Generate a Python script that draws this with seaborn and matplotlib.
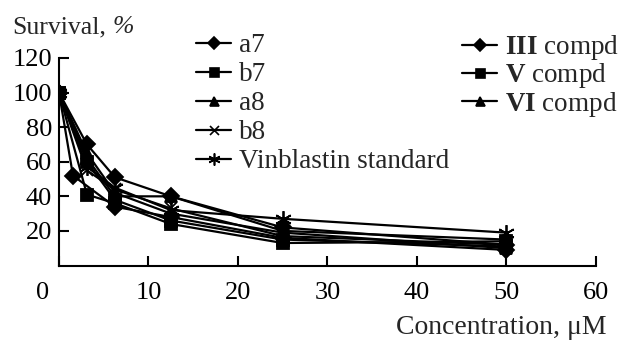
import matplotlib
matplotlib.use('Agg')
import matplotlib.pyplot as plt
import matplotlib.transforms as mtransforms
from matplotlib.lines import Line2D
import seaborn as sns
import pandas as pd

# ---- data ----
conc_main = [0, 3.125, 6.25, 12.5, 25, 50]
conc_iii = [0, 1.5625, 6.25, 12.5, 25, 50]

series_names = ["a7", "b7", "a8", "b8", "Vinblastin standard",
                "III compd", "V compd", "VI compd"]
a7 = [100, 70, 51, 40, 22, 12]
b7 = [100, 41, 36, 24, 13, 14]
a8 = [100, 62, 40, 40, 20, 15]
b8 = [100, 55, 44, 33, 17, 12]
vinblastin = [100, 57, 45, 32, 27, 19]
iii_compd = [100, 52, 34, 28, 16, 9]
v_compd = [100, 60, 38, 26, 15, 11]
vi_compd = [100, 65, 42, 30, 19, 10]

values = [a7, b7, a8, b8, vinblastin, iii_compd, v_compd, vi_compd]
xs = [conc_main, conc_main, conc_main, conc_main, conc_main,
      conc_iii, conc_main, conc_main]

x_ticks = [0, 10, 20, 30, 40, 50, 60]
y_ticks = [20, 40, 60, 80, 100, 120]

sns.set_style("ticks")
plt.rcParams["font.family"] = ["Liberation Serif", "DejaVu Serif"]
plt.rcParams["mathtext.fontset"] = "custom"
plt.rcParams["mathtext.rm"] = "Liberation Serif"
plt.rcParams["mathtext.it"] = "Liberation Serif:italic"
plt.rcParams["mathtext.bf"] = "Liberation Serif:bold"
plt.rcParams["font.size"] = 19

fig = plt.figure(figsize=(6.2, 3.41), dpi=100)
ax = fig.add_axes([59 / 620, 1 - 265.5 / 341, (596 - 59) / 620, (265.5 - 58) / 341])

marker_map = {"a7": "D", "b7": "s", "a8": "^", "b8": "x",
              "Vinblastin standard": (6, 2, 0),
              "III compd": "D", "V compd": "s", "VI compd": "^"}
msize = {"a7": 8.5, "b7": 9, "a8": 9, "b8": 9, "Vinblastin standard": 12,
         "III compd": 8.5, "V compd": 9, "VI compd": 9}

for name, xv, yv in zip(series_names, xs, values):
    d = pd.DataFrame({"conc": xv, "survival": yv})
    sns.lineplot(data=d, x="conc", y="survival", color="black",
                 marker=marker_map[name], markersize=msize[name],
                 markeredgecolor="black", markerfacecolor="black",
                 markeredgewidth=1.3, linewidth=1.6, ax=ax,
                 estimator=None, sort=True)


def proxy(name):
    return Line2D([], [], color="black", linewidth=1.6,
                  marker=marker_map[name], markersize=msize[name] * 0.72,
                  markerfacecolor="black", markeredgecolor="black",
                  markeredgewidth=1.2)


common = dict(frameon=False, loc="upper left", borderpad=0, borderaxespad=0,
              handlelength=1.3, handletextpad=0.3, fontsize=19.5)
leg1 = fig.legend([proxy(n) for n in series_names[:5]], series_names[:5],
                  bbox_to_anchor=(196 / 620, 1 - 33 / 341), labelspacing=0.15,
                  **common)
right_labels = [r"$\mathbf{III}$ compd", r"$\mathbf{V}$ compd", r"$\mathbf{VI}$ compd"]
leg2 = fig.legend([proxy(n) for n in series_names[5:]], right_labels,
                  bbox_to_anchor=(462 / 620, 1 - 33 / 341), labelspacing=-0.02,
                  **common)

ax.set_xlim(0, 60)
ax.set_ylim(0, 120)
ax.set_xticks(x_ticks)
ax.set_yticks(y_ticks)
ax.tick_params(axis="both", direction="in", length=7, width=1.5,
               colors="black", labelsize=19)
ax.tick_params(axis="x", pad=12)
ax.tick_params(axis="y", pad=5)
for sp in ["top", "right"]:
    ax.spines[sp].set_visible(False)
for sp in ["left", "bottom"]:
    ax.spines[sp].set_linewidth(1.5)
    ax.spines[sp].set_color("black")

# first x tick label sits left of the y axis in the original
offset = mtransforms.ScaledTranslation(-16 / 100, 0, fig.dpi_scale_trans)
lbl0 = ax.get_xticklabels()[0]
lbl0.set_transform(lbl0.get_transform() + offset)

ax.set_xlabel("Concentration, μM", ha="right", va="baseline", fontsize=20)
ax.xaxis.set_label_coords(1.02, (265.5 - 334) / 207.5)

ylab = ax.set_ylabel("Survival,", rotation=0, ha="left", va="baseline",
                     fontsize=18.5)
ax.yaxis.set_label_coords(-0.0875, (265.5 - 33) / 207.5)
ax.annotate("%", xy=(1, 0), xycoords=ylab, xytext=(4.5, 0),
            textcoords="offset points", ha="left", va="bottom",
            fontsize=18.5, fontstyle="italic")

fig.savefig("out.png", dpi=100)
